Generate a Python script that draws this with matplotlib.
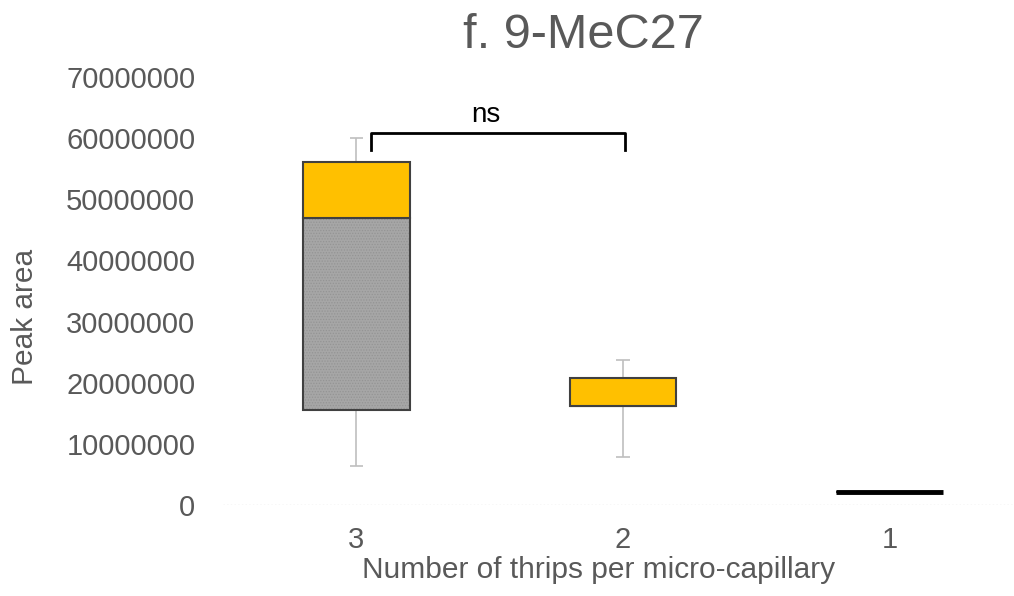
import matplotlib
matplotlib.use("Agg")
import matplotlib.pyplot as plt

plt.rcParams['font.family'] = ['Liberation Sans', 'DejaVu Sans']
plt.rcParams['hatch.linewidth'] = 0.6

# thrips per micro-capillary
categories = ["3", "2", "1"]
# box plot stats, peak area
q_min = [6.4e6, 7.9e6, 2.1e6]
q1 = [15.6e6, 16.2e6, 2.1e6]
median = [47.0e6, 16.2e6, 2.1e6]
q3 = [56.1e6, 20.8e6, 2.1e6]
q_max = [60.1e6, 23.7e6, 2.1e6]

grey_txt = '#595959'
x = list(range(len(categories)))
w = 0.40

fig = plt.figure(figsize=(10.14, 5.96), dpi=100)
ax = fig.add_axes([0.22, 0.1527, 0.789, 0.7181])

# whiskers
for i in x:
    ax.vlines(i, q_min[i], q_max[i], color='#bfbfbf', lw=1.2, zorder=1)
    ax.hlines([q_min[i], q_max[i]], i - 0.025, i + 0.025, color='#bfbfbf', lw=1.2, zorder=1)

low = [m - a for m, a in zip(median, q1)]
high = [b - m for b, m in zip(q3, median)]

ax.bar(x, low, w, bottom=q1, color='#a6a6a6', edgecolor='#949494', hatch='......', lw=0, zorder=2)
ax.bar(x, low, w, bottom=q1, fill=False, edgecolor='#404040', lw=1.5, zorder=3)
ax.bar(x, high, w, bottom=median, color='#ffc000', edgecolor='#404040', lw=1.5, zorder=3)

# boxes with no height -> thick line
for i in x:
    if q3[i] - q1[i] < 1e5:
        ax.hlines(median[i], i - w / 2, i + w / 2, color='black', lw=3.5, zorder=4)

# significance bracket
ax.plot([0.055, 0.055, 1.008, 1.008], [58.1e6, 60.9e6, 60.9e6, 58.1e6], color='black', lw=2, zorder=5)
ax.text(0.487, 61.6e6, "ns", ha='center', va='bottom', fontsize=20, color='black')

ax.axhline(0, color='#d9d9d9', lw=1, ls=':', zorder=0)

ax.set_xlim(-0.5, 2.5)
ax.set_ylim(0, 70e6)
ax.set_yticks(range(0, 70000001, 10000000))
ax.set_yticklabels([str(v) for v in range(0, 70000001, 10000000)])
ax.set_xticks(x)
ax.set_xticklabels(categories)
for s in ax.spines.values():
    s.set_visible(False)
ax.tick_params(axis='both', length=0, labelsize=21, labelcolor=grey_txt)
ax.tick_params(axis='x', pad=15)
ax.tick_params(axis='y', pad=20)

fig.text(599 / 1014, 1 - 570 / 596, "Number of thrips per micro-capillary", fontsize=21.5,
         color=grey_txt, ha='center', va='center')
fig.text(25 / 1014, 1 - 317 / 596, "Peak area", fontsize=21.5, color=grey_txt,
         ha='center', va='center', rotation=90)
fig.text(583 / 1014, 1 - 35 / 596, "f. 9-MeC27", fontsize=35, color=grey_txt,
         ha='center', va='center')

fig.savefig("out.png", dpi=100)
